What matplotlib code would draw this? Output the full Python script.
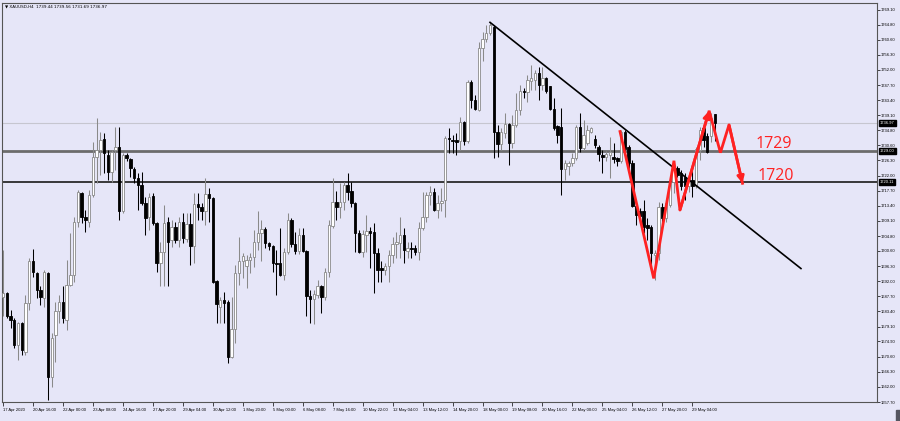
import matplotlib
matplotlib.use("Agg")
import matplotlib.pyplot as plt
from matplotlib.patches import Rectangle
import numpy as np

# XAUUSD H4 candles, 17 Apr - 29 May 2020
opens = [
    1687.6, 1688.6, 1682.0, 1681.0, 1673.9, 1680.0, 1672.0, 1685.7, 1697.6, 1694.4,
    1689.5, 1687.2, 1694.4, 1664.9, 1676.7, 1683.4, 1686.2, 1681.0, 1690.9, 1693.8,
    1708.9, 1717.0, 1710.3, 1708.9, 1716.5, 1727.4, 1729.3, 1732.3, 1727.9, 1723.1,
    1729.3, 1730.0, 1711.8, 1727.8, 1726.6, 1724.0, 1721.2, 1719.3, 1714.1, 1710.3,
    1716.2, 1708.5, 1697.1, 1700.4, 1708.9, 1703.7, 1707.5, 1703.7, 1708.9, 1703.9,
    1708.3, 1701.9, 1713.9, 1713.0, 1711.8, 1716.7, 1715.6, 1692.1, 1684.8, 1686.7,
    1686.2, 1670.6, 1678.4, 1694.3, 1697.6, 1696.3, 1698.0, 1698.8, 1703.0, 1705.6,
    1706.7, 1702.8, 1702.1, 1697.1, 1697.1, 1693.8, 1700.4, 1709.4, 1702.6, 1700.7,
    1705.1, 1700.7, 1687.9, 1687.0, 1688.1, 1690.5, 1687.4, 1694.7, 1707.7, 1714.6,
    1713.0, 1714.4, 1719.3, 1717.7, 1714.1, 1705.8, 1700.4, 1705.1, 1706.3, 1706.1,
    1699.9, 1695.7, 1695.2, 1696.4, 1699.5, 1702.5, 1702.8, 1705.1, 1700.6, 1701.4,
    1701.4, 1700.4, 1707.2, 1710.3, 1716.5, 1717.4, 1712.2, 1714.1, 1715.1, 1732.8,
    1732.1, 1732.1, 1731.7, 1737.1, 1731.7, 1748.7, 1743.5, 1740.6, 1758.2, 1760.8,
    1762.4, 1764.3, 1734.3, 1730.9, 1734.0, 1736.6, 1731.2, 1736.4, 1740.6, 1746.0,
    1745.7, 1748.9, 1749.2, 1751.1, 1747.6, 1749.6, 1747.3, 1740.8, 1736.1, 1735.9,
    1723.8, 1724.6, 1725.5, 1726.9, 1735.9, 1729.7, 1731.2, 1734.5, 1732.3, 1730.0,
    1727.9, 1727.4, 1727.9, 1727.4, 1726.9, 1726.0, 1734.5, 1730.0, 1725.5, 1713.4,
    1711.8, 1712.0, 1708.0, 1707.5, 1699.5, 1699.9, 1713.2, 1709.9, 1713.7, 1720.3,
    1724.1, 1722.6, 1721.7, 1718.9, 1720.7, 1718.9, 1729.3, 1735.4, 1733.1, 1733.1,
    1739.44,
]
highs = [
    1700.9, 1689.0, 1683.8, 1681.5, 1680.5, 1680.5, 1688.1, 1698.5, 1701.1, 1694.7,
    1690.5, 1695.2, 1694.7, 1677.2, 1686.2, 1688.1, 1690.5, 1698.0, 1705.6, 1710.3,
    1717.9, 1717.4, 1712.2, 1717.9, 1731.6, 1738.3, 1734.5, 1734.0, 1729.3, 1729.3,
    1735.9, 1735.9, 1728.3, 1728.3, 1726.9, 1724.5, 1722.6, 1723.1, 1716.0, 1717.0,
    1717.0, 1708.9, 1703.2, 1713.7, 1710.3, 1709.4, 1708.9, 1710.3, 1711.3, 1711.3,
    1711.3, 1717.0, 1717.0, 1714.1, 1721.2, 1718.4, 1716.0, 1692.4, 1687.6, 1689.0,
    1686.7, 1687.6, 1696.6, 1704.5, 1700.0, 1699.5, 1699.9, 1706.6, 1712.0, 1709.4,
    1707.5, 1703.2, 1702.3, 1700.9, 1707.0, 1701.4, 1711.3, 1709.9, 1706.1, 1707.0,
    1707.0, 1700.9, 1689.5, 1689.5, 1692.4, 1690.9, 1695.7, 1709.4, 1721.2, 1717.5,
    1719.8, 1720.3, 1722.8, 1720.3, 1714.6, 1706.6, 1706.6, 1710.8, 1707.5, 1708.5,
    1701.4, 1697.6, 1697.1, 1700.9, 1704.6, 1706.1, 1710.1, 1707.0, 1703.2, 1703.2,
    1702.3, 1708.9, 1717.4, 1717.4, 1718.9, 1718.4, 1716.5, 1718.4, 1733.1, 1735.4,
    1733.5, 1734.0, 1738.5, 1737.5, 1749.2, 1749.2, 1744.9, 1760.0, 1762.9, 1764.8,
    1765.5, 1764.8, 1736.4, 1735.4, 1739.7, 1736.9, 1739.2, 1745.4, 1747.7, 1746.8,
    1750.6, 1753.4, 1752.0, 1752.9, 1752.9, 1750.1, 1747.5, 1744.0, 1736.4, 1741.1,
    1726.4, 1726.0, 1728.3, 1736.4, 1739.7, 1737.8, 1736.4, 1735.9, 1733.5, 1730.7,
    1729.3, 1729.1, 1732.9, 1731.2, 1727.4, 1735.0, 1735.0, 1730.7, 1726.4, 1714.1,
    1712.7, 1715.1, 1709.9, 1708.0, 1700.9, 1714.6, 1714.1, 1715.1, 1721.2, 1725.5,
    1724.6, 1723.6, 1722.6, 1722.2, 1724.6, 1730.2, 1735.9, 1736.4, 1734.0, 1739.7,
    1739.56,
]
lows = [
    1682.0, 1681.5, 1678.6, 1672.9, 1669.6, 1671.1, 1671.1, 1683.8, 1693.3, 1687.1,
    1685.3, 1684.8, 1658.3, 1662.1, 1669.2, 1680.0, 1680.0, 1678.2, 1690.5, 1691.9,
    1707.5, 1708.5, 1706.1, 1707.5, 1716.0, 1719.8, 1722.2, 1722.6, 1720.8, 1720.3,
    1723.6, 1709.4, 1711.3, 1726.0, 1721.7, 1719.8, 1712.2, 1713.7, 1705.1, 1706.6,
    1708.0, 1694.7, 1690.5, 1690.5, 1690.5, 1701.8, 1702.8, 1701.8, 1702.8, 1703.2,
    1696.6, 1697.1, 1709.4, 1709.4, 1708.0, 1708.9, 1691.4, 1680.1, 1680.1, 1680.1,
    1668.7, 1670.1, 1674.4, 1690.9, 1692.8, 1690.0, 1694.3, 1696.1, 1700.9, 1697.6,
    1701.4, 1700.9, 1694.7, 1688.1, 1693.5, 1692.4, 1699.7, 1701.8, 1699.7, 1699.7,
    1700.4, 1682.0, 1680.2, 1679.9, 1687.2, 1682.9, 1686.7, 1693.3, 1707.0, 1709.4,
    1709.9, 1712.2, 1715.1, 1713.2, 1700.4, 1699.9, 1699.0, 1700.4, 1695.7, 1688.6,
    1691.9, 1691.9, 1693.8, 1691.9, 1697.1, 1698.5, 1698.5, 1697.1, 1698.5, 1698.5,
    1699.5, 1698.0, 1706.6, 1708.9, 1713.7, 1711.8, 1709.9, 1711.8, 1710.3, 1728.3,
    1728.3, 1727.9, 1729.3, 1730.7, 1731.2, 1741.1, 1740.6, 1740.2, 1754.4, 1760.0,
    1761.9, 1726.9, 1727.4, 1729.3, 1732.6, 1725.0, 1729.7, 1735.9, 1739.2, 1743.9,
    1743.0, 1746.3, 1746.3, 1743.5, 1746.3, 1745.4, 1740.6, 1735.0, 1731.2, 1716.5,
    1720.7, 1722.2, 1724.6, 1726.4, 1728.8, 1729.3, 1730.7, 1734.0, 1729.7, 1726.0,
    1722.6, 1726.0, 1721.2, 1725.5, 1724.6, 1725.5, 1728.8, 1723.6, 1713.2, 1708.0,
    1709.9, 1705.6, 1703.7, 1695.2, 1692.4, 1698.0, 1708.5, 1708.9, 1713.2, 1717.0,
    1721.7, 1717.9, 1715.1, 1717.4, 1716.0, 1718.4, 1726.4, 1730.2, 1728.3, 1731.6,
    1731.69,
]
closes = [
    1688.6, 1682.0, 1681.0, 1673.9, 1680.0, 1672.5, 1685.7, 1697.6, 1694.7, 1689.5,
    1687.6, 1694.7, 1664.9, 1675.8, 1683.4, 1686.2, 1681.5, 1690.9, 1693.8, 1708.9,
    1717.4, 1710.3, 1709.4, 1716.5, 1727.4, 1729.3, 1732.1, 1728.3, 1723.1, 1728.8,
    1730.2, 1711.8, 1727.9, 1726.9, 1724.1, 1721.2, 1719.3, 1714.1, 1709.9, 1716.0,
    1708.5, 1697.1, 1700.4, 1708.5, 1703.2, 1707.5, 1703.7, 1708.9, 1704.2, 1708.3,
    1701.9, 1713.9, 1713.0, 1711.8, 1716.7, 1715.7, 1691.9, 1685.5, 1686.7, 1685.7,
    1670.6, 1678.4, 1694.3, 1697.6, 1699.2, 1698.0, 1699.0, 1703.0, 1705.8, 1706.7,
    1702.8, 1702.1, 1697.1, 1696.9, 1693.8, 1700.4, 1709.4, 1702.6, 1700.7, 1705.1,
    1700.7, 1687.8, 1687.0, 1688.4, 1690.5, 1687.4, 1694.7, 1708.0, 1714.6, 1713.0,
    1714.6, 1719.3, 1717.4, 1714.1, 1705.8, 1700.4, 1705.4, 1706.3, 1705.6, 1699.9,
    1695.2, 1695.2, 1696.4, 1699.5, 1702.5, 1703.1, 1705.1, 1700.9, 1701.4, 1701.2,
    1700.2, 1707.2, 1710.3, 1716.5, 1717.4, 1712.2, 1714.1, 1714.8, 1732.6, 1732.4,
    1731.7, 1731.5, 1737.3, 1731.7, 1748.7, 1743.5, 1740.9, 1758.2, 1760.8, 1762.4,
    1764.8, 1734.3, 1730.9, 1734.5, 1736.6, 1731.2, 1736.4, 1740.6, 1746.0, 1745.7,
    1749.2, 1749.6, 1751.1, 1747.7, 1749.6, 1745.9, 1740.8, 1735.4, 1733.5, 1723.8,
    1725.5, 1725.5, 1726.9, 1735.9, 1729.7, 1733.5, 1734.8, 1735.4, 1730.7, 1728.1,
    1727.4, 1728.1, 1728.8, 1726.6, 1726.0, 1734.5, 1729.5, 1725.5, 1713.4, 1710.8,
    1710.5, 1707.5, 1707.0, 1699.9, 1699.9, 1713.2, 1709.9, 1714.1, 1720.3, 1724.1,
    1722.2, 1718.9, 1718.9, 1721.2, 1718.9, 1729.5, 1734.8, 1732.1, 1728.8, 1738.3,
    1736.97,
]

time_labels = [
    "17 Apr 2020", "20 Apr 16:00", "22 Apr 00:00", "23 Apr 08:00", "24 Apr 16:00",
    "27 Apr 20:00", "29 Apr 04:00", "30 Apr 12:00", "1 May 20:00", "5 May 00:00",
    "6 May 08:00", "7 May 16:00", "10 May 22:00", "12 May 04:00", "13 May 12:00",
    "14 May 20:00", "18 May 00:00", "19 May 08:00", "20 May 16:00", "22 May 00:00",
    "25 May 04:00", "26 May 12:00", "27 May 20:00", "29 May 04:00",
]
bars_per_label = 8

price_ticks = [
    1769.10, 1764.80, 1760.60, 1756.30, 1752.00, 1747.70, 1743.40, 1739.10, 1734.80,
    1730.60, 1726.30, 1722.00, 1717.70, 1713.40, 1709.10, 1704.80, 1700.60, 1696.30,
    1692.00, 1687.70, 1683.40, 1679.10, 1674.90, 1670.60, 1666.30, 1662.00, 1657.70,
]

level_hi = 1729.00
level_lo = 1720.11
last_price = 1736.97

# trend line from the 18 May top (bar index, price)
trend_x = [130, 213]
trend_y = [1765.5, 1695.6]

# red zigzag projection (bar index, price)
zig_x = [164.7, 173.7, 179.1, 180.7, 188.5, 191.5, 193.8, 197.4]
zig_y = [1734.5, 1692.8, 1726.2, 1712.2, 1740.4, 1728.5, 1736.4, 1719.8]

bg = "#e6e6f8"
up_edge = "#8a8a8a"
small_font = "Liberation Sans"

fig = plt.figure(figsize=(9, 4.21), dpi=100, facecolor=bg)
ax = fig.add_axes([2 / 900, 1 - 402 / 421, 875 / 900, 399 / 421])
ax.set_facecolor(bg)

o = np.array(opens)
h = np.array(highs)
l = np.array(lows)
c = np.array(closes)
x = np.arange(len(o))
up = c >= o

ax.vlines(x[up], l[up], h[up], color=up_edge, lw=0.75, zorder=3)
ax.vlines(x[~up], l[~up], h[~up], color="black", lw=0.75, zorder=3)

body_lo = np.minimum(o, c)
body_h = np.maximum(np.abs(c - o), 0.25)
ax.bar(x[up], body_h[up], bottom=body_lo[up], width=0.64,
       color="white", edgecolor=up_edge, lw=0.6, zorder=4)
ax.bar(x[~up], body_h[~up], bottom=body_lo[~up], width=0.64,
       color="black", edgecolor="black", lw=0.6, zorder=4)

ax.axhline(last_price, color="#c6c6d0", lw=0.8, zorder=1)
ax.axhline(level_hi, color="#6c6c6c", lw=2.0, zorder=2)
ax.axhline(level_lo, color="#2a2a2a", lw=1.3, zorder=2)

ax.plot(trend_x, trend_y, color="black", lw=1.2, zorder=5)

ax.plot(zig_x, zig_y, color="#ff2222", lw=2.0, zorder=6,
        solid_joinstyle="miter")
for i in (4, 7):
    ax.annotate("", xy=(zig_x[i], zig_y[i]), xytext=(zig_x[i - 1], zig_y[i - 1]),
                arrowprops=dict(arrowstyle="-|>,head_length=0.4,head_width=0.2",
                                color="#ff2222", lw=2.0, shrinkA=0, shrinkB=0),
                zorder=6)

ax.text(201, 1731.0, "1729", color="#ff2222", fontsize=11.5,
        family="Open Sans", va="center", ha="left")
ax.text(201.5, 1721.9, "1720", color="#ff2222", fontsize=11.5,
        family="Open Sans", va="center", ha="left")

ax.set_xlim(-0.27, 233.3)
ax.set_ylim(1657.7, 1771.0)

ax.yaxis.tick_right()
ax.set_yticks(price_ticks)
ax.set_yticklabels([f"{p:.2f}" for p in price_ticks], family=small_font)
ax.tick_params(axis="y", direction="out", length=2, width=0.5, pad=1,
               labelsize=3.0, colors="black")

tick_pos = [i * bars_per_label for i in range(len(time_labels))]
ax.set_xticks(tick_pos)
ax.set_xticklabels(time_labels, ha="left", family=small_font)
ax.tick_params(axis="x", direction="out", length=3, width=0.5, pad=1.5,
               labelsize=3.0, colors="black")

for s in ax.spines.values():
    s.set_color("#555555")
    s.set_linewidth(0.8)

for price in (last_price, level_hi, level_lo):
    ax.annotate(f"{price:.2f}", xy=(1.0, price), xycoords=("axes fraction", "data"),
                xytext=(2, 0), textcoords="offset points", ha="left", va="center",
                fontsize=3.0, color="white", family=small_font,
                bbox=dict(boxstyle="square,pad=0.25", fc="black", ec="black"))

fig.text(5 / 900, 1 - 6 / 421, "\u25bc XAUUSD,H4  1739.44 1739.56 1731.69 1736.97",
         fontsize=3.0, va="center", ha="left", family=["DejaVu Sans"])

# little scroll block at the bottom-right corner of the terminal window
fig.patches.append(Rectangle((896 / 900, 0), 4 / 900, 11 / 421,
                             transform=fig.transFigure, color="#555560"))

fig.savefig("out.png", dpi=100, facecolor=bg)
plt.close(fig)
